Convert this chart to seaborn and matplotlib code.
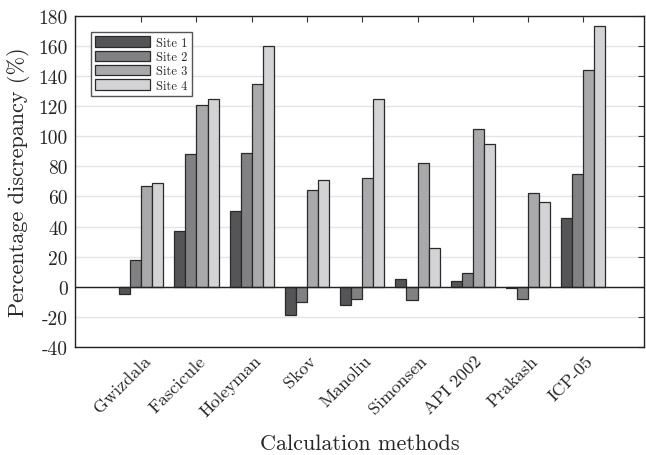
import pandas as pd
import seaborn as sns
import matplotlib.pyplot as plt
from matplotlib.transforms import ScaledTranslation

# values
methods = ["Gwizdala", "Fascicule", "Holeyman", "Skov", "Manoliu",
           "Simonsen", "API 2002", "Prakash", "ICP-05"]
site1 = [-5, 37, 50, -19, -12, 5, 4, -1, 46]
site2 = [18, 88, 89, -10, -8, -9, 9, -8, 75]
site3 = [67, 121, 135, 64, 72, 82, 105, 62, 144]
site4 = [69, 125, 160, 71, 125, 26, 95, 56, 173]
sites = ["Site 1", "Site 2", "Site 3", "Site 4"]
y_ticks = list(range(-40, 181, 20))

df = pd.DataFrame({
    "Method": methods * 4,
    "Site": [s for s in sites for _ in methods],
    "Value": site1 + site2 + site3 + site4,
})

sns.set_style("white")
plt.rcParams["font.family"] = "serif"
plt.rcParams["font.serif"] = ["cmr10", "DejaVu Serif"]
plt.rcParams["axes.unicode_minus"] = False
plt.rcParams["axes.formatter.use_mathtext"] = False

fig = plt.figure(figsize=(6.46, 4.56), dpi=100)
ax = fig.add_axes([0.116, 0.237, 0.881, 0.726])

colors = ["#555558", "#818184", "#a9a9ac", "#d3d3d5"]
sns.barplot(data=df, x="Method", y="Value", hue="Site", palette=colors,
            order=methods, hue_order=sites, errorbar=None, width=0.8,
            edgecolor="#2a2a2a", linewidth=0.9, saturation=1, ax=ax, zorder=3)

ax.axhline(0, color="#222222", lw=1.0, zorder=4)
ax.set_ylim(-40, 180)
ax.set_xlim(-1.2, 9.1)
ax.set_yticks(y_ticks)
ax.set_yticklabels([str(v) for v in y_ticks])
ax.yaxis.grid(True, color="#e4e4e4", lw=1.0, zorder=0)
ax.set_axisbelow(True)

ax.tick_params(axis="both", direction="in", top=True, right=True,
               length=4.5, width=0.8, color="#333333")
ax.tick_params(axis="y", labelsize=14, pad=5)
ax.tick_params(axis="x", labelsize=13, pad=8)
shift = ScaledTranslation(5 / 72, 0, fig.dpi_scale_trans)
for lab in ax.get_xticklabels():
    lab.set_rotation(45)
    lab.set_ha("right")
    lab.set_va("center")
    lab.set_rotation_mode("anchor")
    lab.set_transform(lab.get_transform() + shift)

for sp in ax.spines.values():
    sp.set_color("#222222")
    sp.set_linewidth(1.0)

ax.set_xlabel("Calculation methods", fontsize=16, labelpad=10)
ax.set_ylabel("Percentage discrepancy (%)", fontsize=16, labelpad=6)

ax.legend(loc="upper left", bbox_to_anchor=(0.028, 0.952), borderaxespad=0,
          fontsize=9, handlelength=4.4, handleheight=0.9, labelspacing=0.15,
          handletextpad=0.5, borderpad=0.35, fancybox=False,
          edgecolor="#555555", framealpha=1)

plt.savefig("out.png", dpi=100)
